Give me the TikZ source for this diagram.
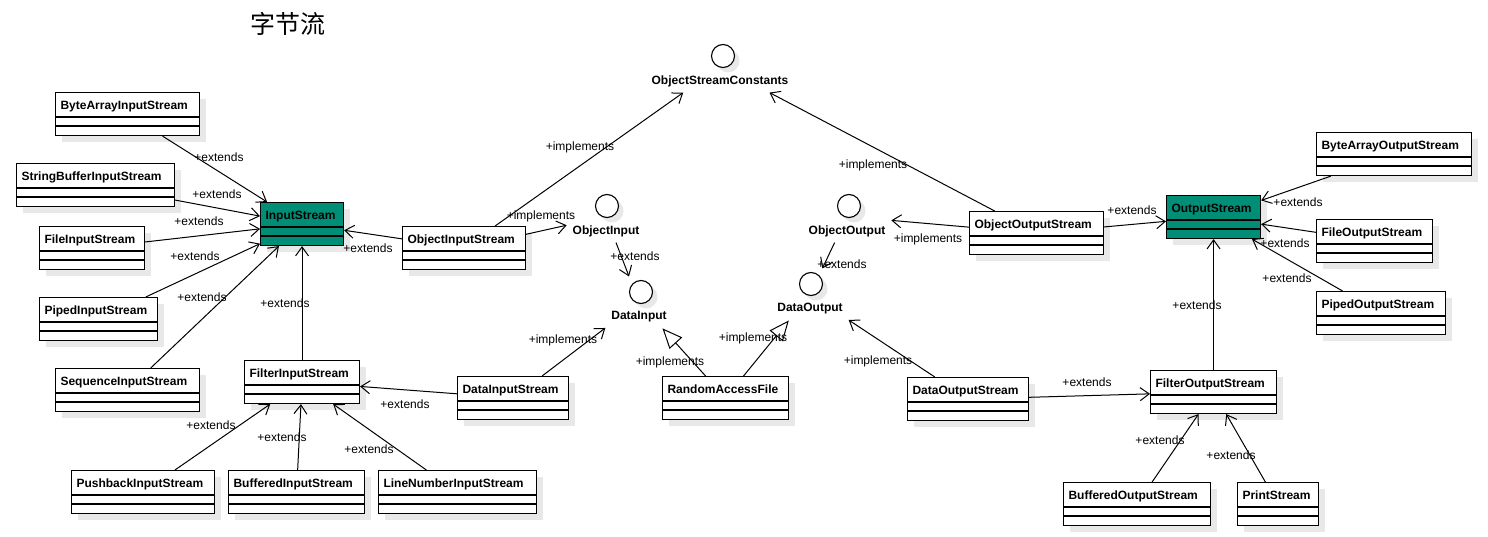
\documentclass[tikz,border=0pt]{standalone}
\usepackage{fontspec}
\setmainfont{Liberation Sans}
\newfontfamily\cjk{Noto Sans CJK SC}
\usetikzlibrary{arrows.meta,fit,shadows}
\definecolor{streamteal}{RGB}{0,143,118}
\tikzset{
    classbox/.style={draw, line width=1.1pt, fill=white, anchor=north west,
        text width=#1, align=left, inner xsep=5pt, inner ysep=3pt,
        text height=14pt, text depth=23pt,
        font=\fontsize{12}{14}\selectfont\bfseries,
        drop shadow={shadow xshift=6pt, shadow yshift=-6pt, fill=black!9, opacity=1}},
    basebox/.style={classbox=#1, fill=streamteal},
    iface/.style={circle, draw, line width=1.1pt, fill=white, minimum size=23pt, inner sep=0pt,
        drop shadow={shadow xshift=5pt, shadow yshift=-5pt, fill=black!9, opacity=1}},
    ifname/.style={font=\fontsize{12}{14}\selectfont\bfseries, inner sep=2pt},
    ifgroup/.style={inner sep=3pt},
    lbl/.style={font=\fontsize{12}{14}\selectfont, inner sep=0pt},
    ext/.style={-{Straight Barb[length=9pt, width=13pt]}},
    real/.style={-{Triangle[open, length=20pt, width=17pt, fill=white]}}
}
\begin{document}
\begin{tikzpicture}[x=1pt, y=-1pt, line width=1pt]
    \fill[white] (0,0) rectangle (1488,537);
    \useasboundingbox (0,0) rectangle (1488,537);
    \node[font=\cjk\fontsize{25}{28}\selectfont] (title) at (288,24) {字节流};
    % input streams
    \node[classbox=134pt] (bais) at (55,92) {ByteArrayInputStream};
    \node[classbox=148pt] (sbis) at (16,163) {StringBufferInputStream};
    \node[basebox=73pt] (is) at (260,202) {InputStream};
    \node[classbox=95pt] (fis) at (39,226) {FileInputStream};
    \node[classbox=108pt] (pis) at (39,297) {PipedInputStream};
    \node[classbox=134pt] (sqis) at (55,368) {SequenceInputStream};
    \node[classbox=105pt] (fltis) at (244,360) {FilterInputStream};
    \node[classbox=113pt] (ois) at (402,226) {ObjectInputStream};
    \node[classbox=101pt] (dis) at (457,376) {DataInputStream};
    \node[classbox=133pt] (pbis) at (71,470) {PushbackInputStream};
    \node[classbox=126pt] (bis) at (228,470) {BufferedInputStream};
    \node[classbox=148pt] (lnis) at (378,470) {LineNumberInputStream};
    \node[classbox=116pt] (raf) at (662,376) {RandomAccessFile};
    % output streams
    \node[classbox=111pt] (dos) at (907,377) {DataOutputStream};
    \node[classbox=124pt] (oos) at (969,211) {ObjectOutputStream};
    \node[basebox=84pt] (os) at (1166,195) {OutputStream};
    \node[classbox=145pt] (baos) at (1316,132) {ByteArrayOutputStream};
    \node[classbox=106pt] (fos) at (1316,219) {FileOutputStream};
    \node[classbox=119pt] (pos) at (1316,291) {PipedOutputStream};
    \node[classbox=116pt] (fltos) at (1150,370) {FilterOutputStream};
    \node[classbox=137pt] (bos) at (1063,482) {BufferedOutputStream};
    \node[classbox=71pt] (ps) at (1237,482) {PrintStream};
    \foreach \c in {bais,sbis,is,fis,pis,sqis,fltis,ois,dis,pbis,bis,lnis,raf,
                    dos,oos,os,baos,fos,pos,fltos,bos,ps}
        \draw[line width=1.1pt] ([yshift=-25pt]\c.north west) -- ([yshift=-25pt]\c.north east)
            ([yshift=-34pt]\c.north west) -- ([yshift=-34pt]\c.north east);
    % interfaces
    \node[iface] (oscC) at (723,56) {};
    \node[ifname] (oscL) at (720,81) {ObjectStreamConstants};
    \node[ifgroup, fit=(oscC)(oscL)] (osc) {};
    \node[iface] (oiC) at (607,206) {};
    \node[ifname] (oiL) at (606,231) {ObjectInput};
    \node[ifgroup, fit=(oiC)(oiL)] (oi) {};
    \node[iface] (diC) at (641,292) {};
    \node[ifname] (diL) at (639,317) {DataInput};
    \node[ifgroup, fit=(diC)(diL)] (di) {};
    \node[iface] (ooC) at (849,206) {};
    \node[ifname] (ooL) at (847,231) {ObjectOutput};
    \node[ifgroup, fit=(ooC)(ooL)] (oo) {};
    \node[iface] (doC) at (811,284) {};
    \node[ifname] (doL) at (810,309) {DataOutput};
    \node[ifgroup, fit=(doC)(doL)] (do) {};
    % connectors
    \draw[ext] (bais) -- (is) node[lbl] (baisLbl) at (219,157) {+extends};
    \draw[ext] (sbis) -- (is) node[lbl] (sbisLbl) at (217,194) {+extends};
    \draw[ext] (fis) -- (is) node[lbl] (fisLbl) at (199,221) {+extends};
    \draw[ext] (pis) -- (is) node[lbl] (pisLbl) at (195,256) {+extends};
    \draw[ext] (sqis) -- (is) node[lbl] (sqisLbl) at (202,297) {+extends};
    \draw[ext] (fltis) -- (is) node[lbl] (fltisLbl) at (285,303) {+extends};
    \draw[ext] (ois) -- (is) node[lbl] (oisLbl) at (368,248) {+extends};
    \draw[ext] (ois) -- (osc) node[lbl] (oiscLbl) at (580,147) {+implements};
    \draw[ext] (ois) -- (oi) node[lbl] (oioLbl) at (541,216) {+implements};
    \draw[ext] (oi) -- (di) node[lbl] (oiLbl) at (635,256) {+extends};
    \draw[ext] (oos) -- (osc) node[lbl] (ooscLbl) at (873,165) {+implements};
    \draw[ext] (oos) -- (oo) node[lbl] (oooLbl) at (928,239) {+implements};
    \draw[ext] (oo) -- (do) node[lbl] (ooLbl) at (842,264) {+extends};
    \draw[ext] (dis) -- (di) node[lbl] (disiLbl) at (563,340) {+implements};
    \draw[ext] (dis) -- (fltis) node[lbl] (disLbl) at (405,404) {+extends};
    \draw[real] (raf) -- (di) node[lbl] (rafiLbl) at (670,362) {+implements};
    \draw[real] (raf) -- (do) node[lbl] (rafoLbl) at (753,338) {+implements};
    \draw[ext] (dos) -- (do) node[lbl] (dosiLbl) at (878,361) {+implements};
    \draw[ext] (dos) -- (fltos) node[lbl] (dosLbl) at (1087,382) {+extends};
    \draw[ext] (fltos) -- (os) node[lbl] (fltosLbl) at (1197,305) {+extends};
    \draw[ext] (oos) -- (os) node[lbl] (oosLbl) at (1132,210) {+extends};
    \draw[ext] (baos) -- (os) node[lbl] (baosLbl) at (1298,202) {+extends};
    \draw[ext] (fos) -- (os) node[lbl] (fosLbl) at (1285,243) {+extends};
    \draw[ext] (pos) -- (os) node[lbl] (posLbl) at (1287,278) {+extends};
    \draw[ext] (bos) -- (fltos) node[lbl] (bosLbl) at (1160,440) {+extends};
    \draw[ext] (ps) -- (fltos) node[lbl] (psLbl) at (1231,455) {+extends};
    \draw[ext] (pbis) -- (fltis) node[lbl] (pbisLbl) at (211,425) {+extends};
    \draw[ext] (bis) -- (fltis) node[lbl] (bisLbl) at (282,437) {+extends};
    \draw[ext] (lnis) -- (fltis) node[lbl] (lnisLbl) at (369,449) {+extends};
\end{tikzpicture}
\end{document}
